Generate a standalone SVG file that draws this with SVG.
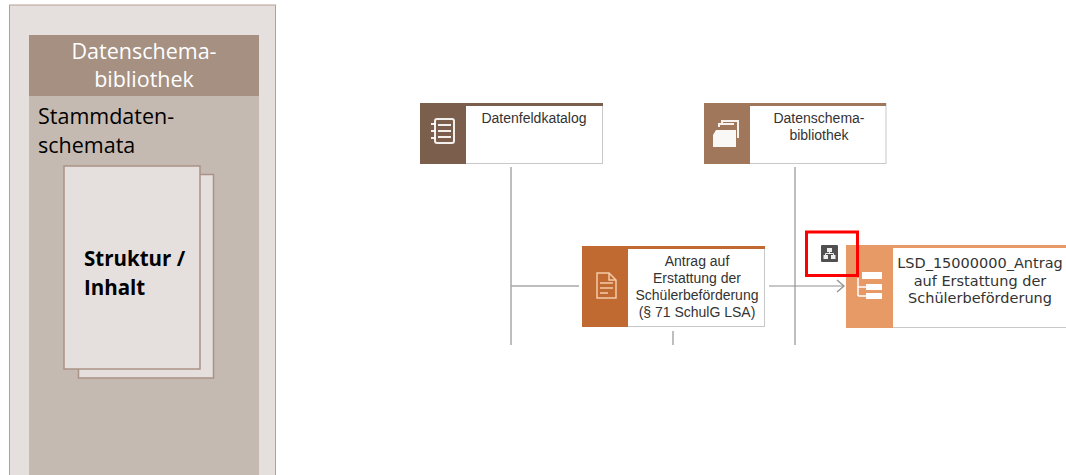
<svg xmlns="http://www.w3.org/2000/svg" width="1066" height="475" viewBox="0 0 1066 475">
<style>
.l{font-family:"Open Sans","Noto Sans","Liberation Sans",sans-serif;font-size:21.5px;fill:#000}
.n{font-family:"Liberation Sans",Arial,sans-serif;font-size:14px;fill:#333;text-anchor:middle}
.page{fill:#e5dfdd;stroke:#ab9286;stroke-width:1.5}
.box{fill:#fff;stroke:#c9c9c9;stroke-width:1}
.c{fill:none;stroke:#a9a9a9;stroke-width:1.5}
.ic{fill:none;stroke:#fff;stroke-width:2;opacity:.9}
.if{fill:#fff;opacity:.95}
</style>
<defs><marker id="arr" markerWidth="10" markerHeight="14" refX="8" refY="7" orient="auto" markerUnits="userSpaceOnUse"><path d="M1 1L8 7L1 13" fill="none" stroke="#909090" stroke-width="1.3"/></marker></defs>
<g id="panel">
<rect x="9.5" y="5" width="266" height="472" fill="#e5dfdd" stroke="#b5a095" stroke-width="1"/>
<rect x="29" y="96" width="230" height="379" fill="#c5bab1"/>
<rect x="29" y="35" width="230" height="61" fill="#a59082"/>
<text class="l" x="144" y="59" text-anchor="middle" style="fill:#fff">Datenschema-</text>
<text class="l" x="144" y="87" text-anchor="middle" style="fill:#fff">bibliothek</text>
<text class="l" x="38" y="124">Stammdaten-</text>
<text class="l" x="38" y="153">schemata</text>
</g>
<g id="pages">
<rect class="page" x="78.5" y="174.500" width="135" height="203.500"/>
<rect class="page" x="64" y="166" width="136" height="203"/>
<text class="l" x="84" y="266" style="font-weight:700;font-size:20.500px">Struktur /</text>
<text class="l" x="84" y="295" style="font-weight:700;font-size:20.500px">Inhalt</text>
</g>
<g id="connectors">
<path class="c" d="M511 167V345M511 286H579M795 167V345M673 331V345"/>
<path d="M769 286H844" fill="none" stroke="#909090" stroke-width="1.2" marker-end="url(#arr)"/>
</g>
<g id="datenfeldkatalog">
<rect class="box" x="420.500" y="103.500" width="182" height="60"/>
<rect x="420" y="103" width="46" height="61" fill="#7b5e4c"/>
<rect x="420" y="103" width="183" height="3" fill="#7b5e4c"/>
<rect class="ic" x="435" y="119" width="19" height="24" rx="2"/>
<path class="ic" d="M438 125H451M438 131H451M438 137H451M431 124H436M431 131H436M431 138H436"/>
<text class="n" x="534" y="123">Datenfeldkatalog</text>
</g>
<g id="datenschemabibliothek">
<rect class="box" x="704.500" y="103.500" width="181.500" height="60"/>
<rect x="704" y="103" width="46" height="61" fill="#a1775b"/>
<rect x="704" y="103" width="182" height="3" fill="#a1775b"/>
<path class="if" d="M716 130H736V147H713V135Z"/>
<path class="ic" d="M719 127V124H734M722 124V121H738V138"/>
<text class="n" x="819" y="123">Datenschema-</text>
<text class="n" x="819" y="140">bibliothek</text>
</g>
<g id="antrag">
<rect class="box" x="582.500" y="246.500" width="182" height="80"/>
<rect x="582" y="246" width="46" height="81" fill="#c06a32"/>
<rect x="582" y="246" width="183" height="3" fill="#c06a32"/>
<path d="M597 273H609L616 280V298H597ZM609 273V280H616M600 283H613M600 288H613M600 293H608" fill="none" stroke="#f3c9a8" stroke-width="1.500"/>
<text class="n" x="697" y="266">Antrag auf</text>
<text class="n" x="697" y="283">Erstattung der</text>
<text class="n" x="697" y="300">Schülerbeförderung</text>
<text class="n" x="697" y="317">(§ 71 SchulG LSA)</text>
</g>
<g id="lsd">
<rect class="box" x="846.500" y="245.500" width="225" height="82"/>
<rect x="846" y="245" width="47" height="83" fill="#e79a66"/>
<rect x="846" y="245" width="220" height="3" fill="#e79a66"/>
<path d="M862 272H882V279H862ZM866 284H882V290H866ZM866 293H882V299H866Z" fill="#fff"/>
<path d="M858 278V296M858 287H866M858 296H866" fill="none" stroke="#fff" stroke-width="1.500"/>
<g style="font-family:'DejaVu Sans','Liberation Sans',sans-serif;font-size:14.500px;fill:#333;text-anchor:middle">
<text x="980" y="268">LSD_15000000_Antrag</text>
<text x="980" y="286">auf Erstattung der</text>
<text x="980" y="303">Schülerbeförderung</text>
</g>
</g>
<g id="highlight">
<rect x="821" y="245" width="17" height="17" rx="1" fill="#505050"/>
<path d="M827 248H832V252H827ZM823.500 255H828V259H823.500ZM831 255H835.500V259H831Z" fill="#eee"/>
<path d="M829.500 252V254M825.500 255V253.500H833.500V255" fill="none" stroke="#eee" stroke-width="1"/>
<rect x="806.500" y="232" width="51" height="43.500" fill="none" stroke="#f00" stroke-width="3"/>
</g>
</svg>
